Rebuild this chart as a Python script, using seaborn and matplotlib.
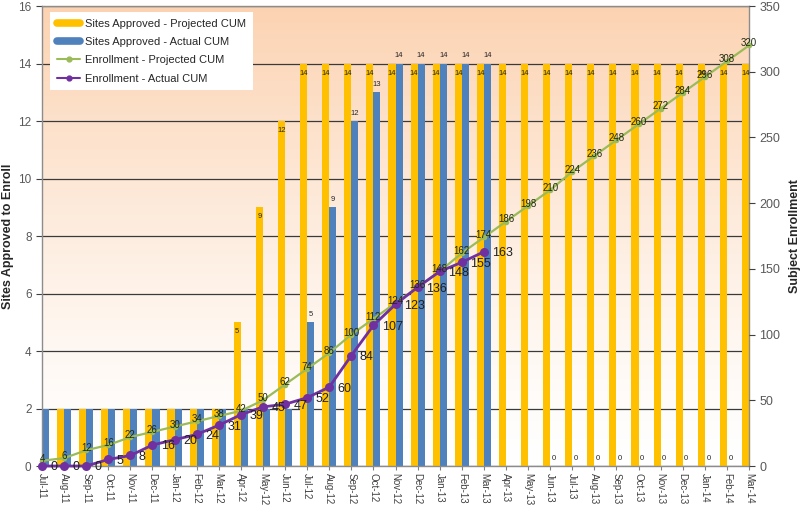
import numpy as np
import pandas as pd
import matplotlib
matplotlib.use("Agg")
import matplotlib.pyplot as plt
from matplotlib.colors import LinearSegmentedColormap
from matplotlib.lines import Line2D
import seaborn as sns

months = ["Jul-11", "Aug-11", "Sep-11", "Oct-11", "Nov-11", "Dec-11",
          "Jan-12", "Feb-12", "Mar-12", "Apr-12", "May-12", "Jun-12",
          "Jul-12", "Aug-12", "Sep-12", "Oct-12", "Nov-12", "Dec-12",
          "Jan-13", "Feb-13", "Mar-13", "Apr-13", "May-13", "Jun-13",
          "Jul-13", "Aug-13", "Sep-13", "Oct-13", "Nov-13", "Dec-13",
          "Jan-14", "Feb-14", "Mar-14"]

sites_projected = [2, 2, 2, 2, 2, 2, 2, 2, 2, 5, 9, 12,
                   14, 14, 14, 14, 14, 14, 14, 14, 14, 14, 14, 14,
                   14, 14, 14, 14, 14, 14, 14, 14, 14]
sites_actual = [2, 2, 2, 2, 2, 2, 2, 2, 2, 2, 2, 2,
                5, 9, 12, 13, 14, 14, 14, 14, 14, np.nan, np.nan, 0,
                0, 0, 0, 0, 0, 0, 0, 0, np.nan]

enroll_projected = [4, 6, 12, 16, 22, 26, 30, 34, 38, 42, 50, 62,
                    74, 86, 100, 112, 124, 136, 148, 162, 174, 186, 198, 210,
                    224, 236, 248, 260, 272, 284, 296, 308, 320]
enroll_actual = [0, 0, 0, 5, 8, 16, 20, 24, 31, 39, 45, 47,
                 52, 60, 84, 107, 123, 136, 148, 155, 163]

series_names = ["Sites Approved - Projected CUM", "Sites Approved - Actual CUM",
                "Enrollment - Projected CUM", "Enrollment - Actual CUM"]
YELLOW, BLUE, GREEN, PURPLE = "#FFC000", "#4F81BD", "#9BBB59", "#7030A0"

sns.set_style("ticks")
plt.rcParams["font.family"] = ["Liberation Sans", "DejaVu Sans"]

pos = np.arange(len(months))
sites = pd.DataFrame({"pos": pos,
                      series_names[0]: sites_projected,
                      series_names[1]: sites_actual})
sites = sites.melt(id_vars="pos", var_name="series", value_name="sites").dropna()

fig = plt.figure(figsize=(8, 5.05), dpi=100)
ax = fig.add_axes([0.0525, 0.0772, 0.88375, 0.9109])

# peach-to-white gradient background
grad = np.linspace(0, 1, 256).reshape(-1, 1) ** 1.3
cmap = LinearSegmentedColormap.from_list("bg", ["#FFFFFF", "#FCD3B2"])
ax.imshow(grad, extent=[0, 1, 0, 1], transform=ax.transAxes, origin="lower",
          aspect="auto", cmap=cmap, zorder=0)

sns.barplot(data=sites, x="pos", y="sites", hue="series", hue_order=series_names[:2],
            palette=[YELLOW, BLUE], native_scale=True, width=0.64, saturation=1,
            errorbar=None, legend=False, ax=ax, zorder=2, linewidth=0)

for cont, pad in zip(ax.containers, [-9.5, 3]):
    labels = ["" if v == 2 else f"{v:.0f}" for v in cont.datavalues]
    ax.bar_label(cont, labels=labels, padding=pad, fontsize=5.5, color="#262626")

ax.set_xlim(0, len(months) - 1)
ax.set_ylim(0, 16)
ax.set_yticks(range(0, 17, 2))
ax.yaxis.grid(True, color="#3A3A3A", lw=0.9)
ax.set_axisbelow(True)
ax.set_xticks(pos)
ax.set_xticklabels(months, rotation=270, fontsize=7, color="#404040")
ax.tick_params(axis="y", labelsize=8.5, labelcolor="#595959", length=4, color="#404040")
ax.tick_params(axis="x", length=3, color="#808080", pad=2)
ax.set_xlabel("")
ax.set_ylabel("Sites Approved to Enroll", fontsize=9, fontweight="bold")
ax.yaxis.set_label_coords(-0.039, 0.5)
for s in ax.spines.values():
    s.set_color("#8C8C8C")
    s.set_linewidth(1)

ax2 = ax.twinx()
sns.lineplot(x=pos, y=enroll_projected, ax=ax2, color=GREEN, lw=1.6, marker="o",
             markersize=4, markeredgewidth=0, clip_on=False, zorder=4)
sns.lineplot(x=pos[:len(enroll_actual)], y=enroll_actual, ax=ax2, color=PURPLE, lw=2,
             marker="o", markersize=6.5, markeredgewidth=0, clip_on=False, zorder=5)

for x, v in zip(pos, enroll_projected):
    ax2.annotate(str(v), (x, v), xytext=(0, 1.5), textcoords="offset points",
                 ha="center", va="center", fontsize=7, color="#1E2A10", zorder=6)
for x, v in zip(pos, enroll_actual):
    ax2.annotate(str(v), (x, v), xytext=(6, -1), textcoords="offset points",
                 ha="left", va="center", fontsize=9, color="#1F1F1F", zorder=6)

ax2.set_ylim(0, 350)
ax2.set_yticks(range(0, 351, 50))
ax2.tick_params(axis="y", labelsize=9, labelcolor="#595959", length=4, color="#404040")
ax2.set_ylabel("Subject Enrollment", fontsize=9, fontweight="bold")
ax2.yaxis.set_label_coords(1.056, 0.5)
for s in ax2.spines.values():
    s.set_visible(False)

handles = [Line2D([0], [0], color=YELLOW, lw=5.5),
           Line2D([0], [0], color=BLUE, lw=5.5),
           Line2D([0], [0], color=GREEN, lw=1.5, marker="o", markersize=3.5),
           Line2D([0], [0], color=PURPLE, lw=1.5, marker="o", markersize=3.5)]
leg = ax2.legend(handles, series_names, loc="upper left", bbox_to_anchor=(0.012, 0.987),
                 fontsize=8, frameon=True, facecolor="white", edgecolor="none",
                 framealpha=1, fancybox=False, handlelength=2.1, handletextpad=0.4,
                 labelspacing=0.75, borderpad=0.6, borderaxespad=0)
leg.set_zorder(10)

fig.savefig("out.png", dpi=100)
plt.close(fig)
